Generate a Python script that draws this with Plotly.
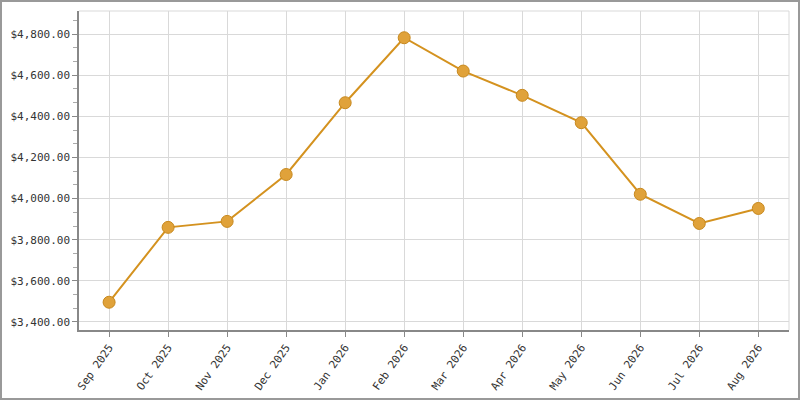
import plotly.graph_objects as go

months = ["Sep 2025", "Oct 2025", "Nov 2025", "Dec 2025", "Jan 2026", "Feb 2026",
          "Mar 2026", "Apr 2026", "May 2026", "Jun 2026", "Jul 2026", "Aug 2026"]
values = [3496, 3860, 3889, 4117, 4466, 4782, 4620, 4502, 4369, 4021, 3879, 3952]

W, H = 800, 400
ML, MR, MT, MB = 79, 11, 11, 70
pw, ph = W - ML - MR, H - MT - MB

fig = go.Figure()
fig.add_trace(go.Scatter(
    x=list(range(len(months))), y=values, mode="lines+markers",
    line=dict(color="#D4921F", width=2),
    marker=dict(size=12, color="#E0A23A", line=dict(color="#C8891E", width=1)),
    hoverinfo="skip", showlegend=False,
))

font = dict(family="DejaVu Sans Mono", size=11, color="#333333")

fig.update_layout(
    width=W, height=H,
    margin=dict(l=ML, r=MR, t=MT, b=MB),
    paper_bgcolor="white", plot_bgcolor="white",
    font=font,
    xaxis=dict(
        range=[-0.51, 11.52],
        tickmode="array", tickvals=list(range(len(months))), ticktext=months,
        tickangle=-55, showgrid=True, gridcolor="#d9d9d9", gridwidth=1,
        showline=True, linecolor="#888888", linewidth=1.5,
        ticks="outside", ticklen=5, tickcolor="#888888",
        zeroline=False, tickfont=font, automargin=False,
    ),
    yaxis=dict(
        range=[3361, 4912],
        tick0=3400, dtick=200, tickformat="$,.2f",
        showgrid=True, gridcolor="#d9d9d9", gridwidth=1,
        showline=True, linecolor="#888888", linewidth=1.5,
        ticks="outside", ticklen=5, tickcolor="#888888",
        minor=dict(dtick=200/3, tick0=3400, ticks="outside", ticklen=4,
                   tickcolor="#aaaaaa", showgrid=False),
        zeroline=False, tickfont=font, automargin=False,
    ),
    shapes=[
        dict(type="line", xref="paper", yref="paper", x0=0, x1=1, y0=1, y1=1,
             line=dict(color="#d9d9d9", width=1), layer="below"),
        dict(type="line", xref="paper", yref="paper", x0=1, x1=1, y0=0, y1=1,
             line=dict(color="#d9d9d9", width=1), layer="below"),
        dict(type="rect", xref="paper", yref="paper",
             x0=(1 - ML) / pw, x1=(W - 1 - ML) / pw,
             y0=-(H - 1 - MT - ph) / ph, y1=(ph + MT - 1) / ph,
             line=dict(color="#999999", width=2), fillcolor="rgba(0,0,0,0)"),
    ],
)

fig.write_html("out.html", config={"displayModeBar": False},
               post_script="document.body.style.margin='0px';document.body.style.overflow='hidden';")
